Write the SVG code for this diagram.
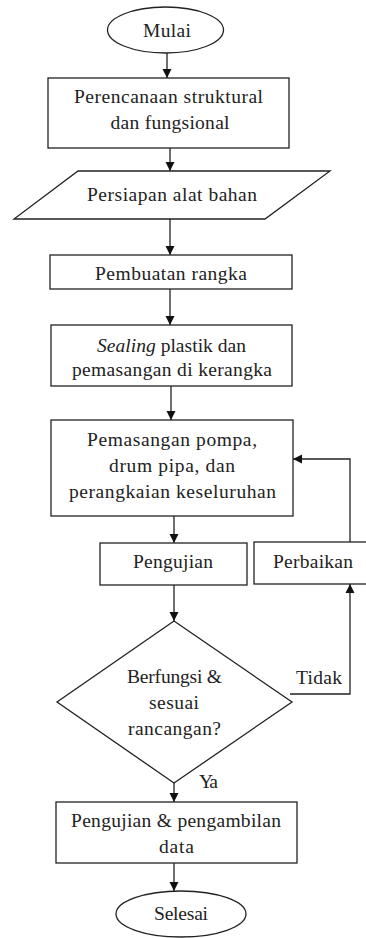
<svg xmlns="http://www.w3.org/2000/svg" width="366" height="938" viewBox="0 0 366 938">
<defs>
<marker id="ah" markerWidth="10" markerHeight="10" refX="9" refY="5" orient="auto" markerUnits="userSpaceOnUse">
<path d="M0,0.5 L9,5 L0,9.5 Z" fill="#111"/>
</marker>
<style>
.s{fill:#fff;stroke:#222;stroke-width:1.3}
.c{fill:none;stroke:#222;stroke-width:1.3;marker-end:url(#ah)}
text{font-family:"Liberation Serif","Times New Roman",serif;font-size:19.5px;fill:#222;text-anchor:middle}
</style>
</defs>
<rect width="366" height="938" fill="#fff"/>
<g id="connectors">
<line class="c" x1="167" y1="53" x2="167" y2="78"/>
<line class="c" x1="170" y1="148" x2="170" y2="171"/>
<line class="c" x1="170" y1="219" x2="170" y2="255"/>
<line class="c" x1="170" y1="289" x2="170" y2="325"/>
<line class="c" x1="171" y1="386" x2="171" y2="420"/>
<line class="c" x1="174" y1="506" x2="174" y2="543"/>
<line class="c" x1="174" y1="585" x2="174" y2="621"/>
<line class="c" x1="174" y1="783" x2="174" y2="802"/>
<line class="c" x1="174" y1="863" x2="174" y2="891"/>
<polyline class="c" points="350,542 350,459 293,459"/>
<polyline class="c" points="290,694 350,694 350,584"/>
</g>
<g id="mulai">
<ellipse class="s" cx="165.5" cy="30" rx="58" ry="23"/>
<text x="167" y="37" textLength="48">Mulai</text>
</g>
<g id="perencanaan">
<rect class="s" x="48" y="78" width="241" height="70"/>
<text x="168.5" y="103" textLength="189">Perencanaan struktural</text>
<text x="170" y="129" textLength="119">dan fungsional</text>
</g>
<g id="persiapan">
<polygon class="s" points="78,171 330,171 265,219 14,219"/>
<text x="172" y="201" textLength="170">Persiapan alat bahan</text>
</g>
<g id="pembuatan">
<rect class="s" x="50" y="255" width="242" height="34"/>
<text x="171" y="280" textLength="152">Pembuatan rangka</text>
</g>
<g id="sealing">
<rect class="s" x="51" y="325" width="241" height="61"/>
<text x="171.5" y="352" textLength="149"><tspan font-style="italic">Sealing</tspan> plastik dan</text>
<text x="172" y="376" textLength="200">pemasangan di kerangka</text>
</g>
<g id="pemasangan">
<rect class="s" x="51" y="420" width="242" height="96"/>
<text x="172" y="446" textLength="170">Pemasangan pompa,</text>
<text x="172" y="472" textLength="126">drum pipa, dan</text>
<text x="172.5" y="498" textLength="207">perangkaian keseluruhan</text>
</g>
<g id="pengujian">
<rect class="s" x="100" y="543" width="147" height="42"/>
<text x="173" y="568" textLength="80">Pengujian</text>
</g>
<g id="perbaikan">
<rect class="s" x="254" y="542" width="114" height="42"/>
<text x="313" y="568" textLength="80">Perbaikan</text>
</g>
<g id="keputusan">
<polygon class="s" points="174,621 292,702 174,783 57,702"/>
<text x="174.5" y="683" textLength="95">Berfungsi &amp;</text>
<text x="174" y="709" textLength="50">sesuai</text>
<text x="174.5" y="735" textLength="93">rancangan?</text>
</g>
<g id="labels">
<text x="319" y="684" textLength="46">Tidak</text>
<text x="208.5" y="788" textLength="19">Ya</text>
</g>
<g id="pengambilan">
<rect class="s" x="56" y="802" width="241" height="61"/>
<text x="176" y="827" textLength="210">Pengujian &amp; pengambilan</text>
<text x="176.5" y="853" textLength="35">data</text>
</g>
<g id="selesai">
<ellipse class="s" cx="181" cy="914" rx="65" ry="23"/>
<text x="181" y="920" textLength="54">Selesai</text>
</g>
</svg>
